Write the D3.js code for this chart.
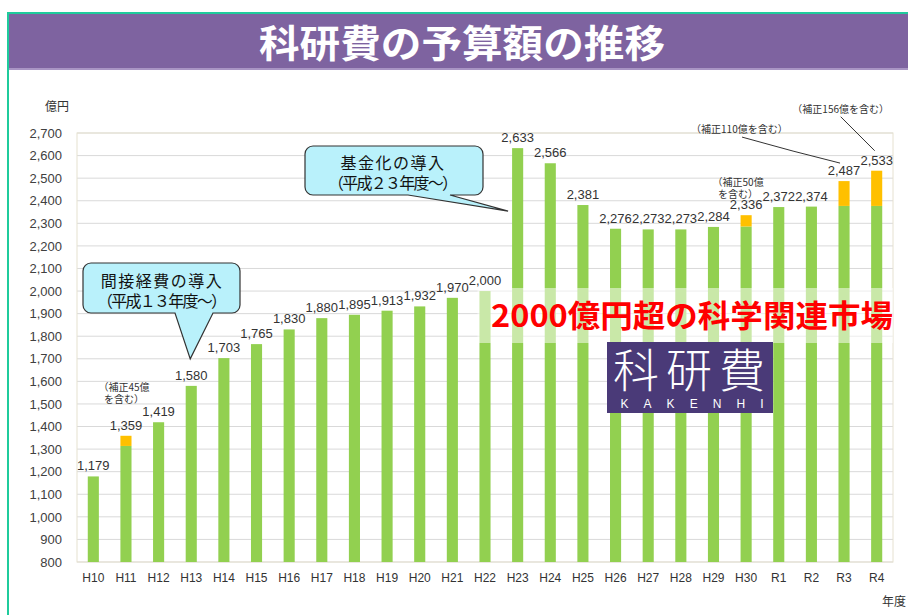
<!doctype html>
<html lang="ja">
  <head>
    <meta charset="UTF-8" />
    <title>科研費の予算額の推移</title>
    <script src="https://d3js.org/d3.v7.min.js"></script>
    <style>
      body {
        margin: 0;
        background: #fff;
      }
      svg text {
        font-family: 'Noto Sans CJK JP', 'Noto Sans', sans-serif;
      }
      .num {
        font-family: 'Liberation Sans', Arial, sans-serif !important;
      }
    </style>
  </head>
  <body>
    <svg id="chart" width="908" height="615"></svg>

    <script>
      // fiscal years
      const years = [
        'H10', 'H11', 'H12', 'H13', 'H14', 'H15', 'H16', 'H17', 'H18', 'H19', 'H20', 'H21',
        'H22', 'H23', 'H24', 'H25', 'H26', 'H27', 'H28', 'H29', 'H30', 'R1', 'R2', 'R3', 'R4',
      ]
      // total budget (億円), supplementary budget included
      const budget = [
        1179, 1359, 1419, 1580, 1703, 1765, 1830, 1880, 1895, 1913, 1932, 1970,
        2000, 2633, 2566, 2381, 2276, 2273, 2273, 2284, 2336, 2372, 2374, 2487, 2533,
      ]
      // supplementary budget part (orange)
      const supplement = [
        0, 45, 0, 0, 0, 0, 0, 0, 0, 0, 0, 0,
        0, 0, 0, 0, 0, 0, 0, 0, 50, 0, 0, 110, 156,
      ]
      const yTicks = [800, 900, 1000, 1100, 1200, 1300, 1400, 1500, 1600, 1700, 1800, 1900,
        2000, 2100, 2200, 2300, 2400, 2500, 2600, 2700]

      const noteH11 = ['（補正45億', 'を含む）']
      const noteH30 = ['（補正50億', 'を含む）']
      const noteR3 = '（補正110億を含む）'
      const noteR4 = '（補正156億を含む）'
      const callout1 = ['間接経費の導入', '（平成１３年度～）']
      const callout2 = ['基金化の導入', '（平成２３年度～）']

      const rows = years.map((d, i) => ({ year: d, total: budget[i], sup: supplement[i] }))

      const svg = d3.select('#chart')
      const plot = { left: 77, right: 893, top: 133, bottom: 562 }

      const x = d3.scaleBand()
        .domain(years)
        .range([plot.left, plot.right])
        .paddingInner(0.66)
        .paddingOuter(0.33)
      const y = d3.scaleLinear().domain([800, 2700]).range([plot.bottom, plot.top])
      const cx = (k) => x(k) + x.bandwidth() / 2
      const fmt = d3.format(',')

      // frame + title band
      svg.append('rect').attr('x', 9).attr('y', 14).attr('width', 899).attr('height', 55)
        .attr('fill', '#7e63a0')
      svg.append('rect').attr('x', 9).attr('y', 68).attr('width', 899).attr('height', 2)
        .attr('fill', '#a995c4')
      svg.append('rect').attr('x', 7).attr('y', 12).attr('width', 901).attr('height', 2)
        .attr('fill', '#1fcb9c')
      svg.append('rect').attr('x', 7).attr('y', 12).attr('width', 2).attr('height', 603)
        .attr('fill', '#1fcb9c')
      svg.append('text')
        .attr('x', 462).attr('y', 57)
        .attr('text-anchor', 'middle')
        .attr('fill', '#fff')
        .attr('font-size', 38)
        .attr('font-weight', 700)
        .attr('textLength', 406)
        .attr('lengthAdjust', 'spacingAndGlyphs')
        .text('科研費の予算額の推移')

      // grid
      svg.append('g').selectAll('line').data(yTicks).join('line')
        .attr('x1', plot.left).attr('x2', plot.right)
        .attr('y1', (d) => y(d)).attr('y2', (d) => y(d))
        .attr('stroke', '#d9d9d9')
      svg.append('rect')
        .attr('x', plot.left).attr('y', plot.top)
        .attr('width', plot.right - plot.left).attr('height', plot.bottom - plot.top)
        .attr('fill', 'none').attr('stroke', '#e6e1d0')

      // y axis
      const yAxis = svg.append('g')
        .attr('transform', `translate(${plot.left},0)`)
        .call(d3.axisLeft(y).tickValues(yTicks).tickSize(0).tickPadding(15).tickFormat(fmt))
      yAxis.select('.domain').remove()
      yAxis.selectAll('text').attr('class', 'num').attr('font-size', 13).attr('fill', '#404040')

      svg.append('text').attr('x', 57).attr('y', 111).attr('text-anchor', 'middle')
        .attr('font-size', 12).attr('fill', '#333').text('億円')

      // x axis
      const xAxis = svg.append('g')
        .attr('transform', `translate(0,${plot.bottom})`)
        .call(d3.axisBottom(x).tickSize(0).tickPadding(11))
      xAxis.select('.domain').remove()
      xAxis.selectAll('text').attr('class', 'num').attr('font-size', 12).attr('fill', '#333')

      svg.append('text').attr('x', 894).attr('y', 606).attr('text-anchor', 'middle')
        .attr('font-size', 12).attr('fill', '#333').text('年度')

      // bars
      svg.append('g').selectAll('rect').data(rows).join('rect')
        .attr('x', (d) => x(d.year))
        .attr('width', x.bandwidth())
        .attr('y', (d) => y(d.total - d.sup))
        .attr('height', (d) => y(800) - y(d.total - d.sup))
        .attr('fill', '#92d050')
      svg.append('g').selectAll('rect').data(rows.filter((d) => d.sup > 0)).join('rect')
        .attr('x', (d) => x(d.year))
        .attr('width', x.bandwidth())
        .attr('y', (d) => y(d.total))
        .attr('height', (d) => y(d.total - d.sup) - y(d.total))
        .attr('fill', '#ffc000')

      // value labels
      svg.append('g').selectAll('text').data(rows).join('text')
        .attr('class', 'num')
        .attr('x', (d) => cx(d.year))
        .attr('y', (d) => y(d.total) - 6)
        .attr('text-anchor', 'middle')
        .attr('font-size', 13)
        .attr('fill', '#333')
        .text((d) => fmt(d.total))

      // translucent band + red message
      svg.append('rect')
        .attr('x', x('H22') - 2).attr('y', 288)
        .attr('width', plot.right - x('H22') + 2).attr('height', 55)
        .attr('fill', '#fff').attr('opacity', 0.5)
      svg.append('text')
        .attr('x', 692).attr('y', 327)
        .attr('text-anchor', 'middle')
        .attr('fill', '#ff0000')
        .attr('font-size', 31)
        .attr('font-weight', 700)
        .attr('textLength', 402)
        .attr('lengthAdjust', 'spacingAndGlyphs')
        .text('2000億円超の科学関連市場')

      // KAKENHI logo
      svg.append('rect').attr('x', 607).attr('y', 342).attr('width', 166).attr('height', 71)
        .attr('fill', '#4a3a78')
      svg.append('text')
        .attr('x', 689).attr('y', 387)
        .attr('text-anchor', 'middle')
        .attr('fill', '#fff')
        .attr('font-size', 46)
        .attr('font-weight', 300)
        .attr('textLength', 152)
        .text('科研費')
      svg.append('text')
        .attr('class', 'num')
        .attr('x', 692).attr('y', 408)
        .attr('text-anchor', 'middle')
        .attr('fill', '#fff')
        .attr('font-size', 12)
        .attr('textLength', 143)
        .text('KAKENHI')

      // callouts
      function callout(x0, y0, x1, y1, tail, lines, tx, ty) {
        const r = 8
        const p = d3.path()
        p.moveTo(x0 + r, y0)
        p.lineTo(x1 - r, y0)
        p.arcTo(x1, y0, x1, y0 + r, r)
        p.lineTo(x1, y1 - r)
        p.arcTo(x1, y1, x1 - r, y1, r)
        p.lineTo(tail[2][0], y1)
        p.lineTo(tail[1][0], tail[1][1])
        p.lineTo(tail[0][0], y1)
        p.lineTo(x0 + r, y1)
        p.arcTo(x0, y1, x0, y1 - r, r)
        p.lineTo(x0, y0 + r)
        p.arcTo(x0, y0, x0 + r, y0, r)
        p.closePath()
        svg.append('path').attr('d', p.toString())
          .attr('fill', '#b9f1fb').attr('stroke', '#333').attr('stroke-width', 1.2)
        svg.append('text').attr('x', tx).attr('y', ty).attr('text-anchor', 'middle')
          .attr('font-size', 16).attr('fill', '#111').attr('letter-spacing', 1.5)
          .text(lines[0])
        svg.append('text').attr('x', tx).attr('y', ty + 20).attr('text-anchor', 'middle')
          .attr('font-size', 16).attr('fill', '#111')
          .attr('textLength', 130).text(lines[1])
      }
      callout(83, 263, 240, 313,
        [[175, 313], [cx('H13') - 1, y(1580) - 27], [213, 313]],
        callout1, 162, 287)
      callout(305, 146, 483, 195,
        [[408, 195], [x('H23') - 4, y(2633) + 63], [450, 195]],
        callout2, 393, 169)

      // supplementary notes
      const note = svg.append('g').attr('font-size', 10).attr('fill', '#333')
      note.append('text').attr('x', cx('H11') - 2).attr('y', y(1359) - 45)
        .attr('text-anchor', 'middle').text(noteH11[0])
      note.append('text').attr('x', cx('H11') - 2).attr('y', y(1359) - 33)
        .attr('text-anchor', 'middle').text(noteH11[1])
      note.append('text').attr('x', cx('H30') - 8).attr('y', y(2336) - 29)
        .attr('text-anchor', 'middle').text(noteH30[0])
      note.append('text').attr('x', cx('H30') - 8).attr('y', y(2336) - 17)
        .attr('text-anchor', 'middle').text(noteH30[1])
      note.append('text').attr('x', cx('R3') - 153).attr('y', y(2487) - 48)
        .attr('text-anchor', 'start').text(noteR3)
      note.append('text').attr('x', cx('R4') - 36).attr('y', y(2533) - 58)
        .attr('text-anchor', 'middle').text(noteR4)
      svg.append('path')
        .attr('d', `M${cx('R3') - 102},${y(2487) - 44} L${cx('R3') - 51},${y(2487) - 30} L${cx('R3') - 4},${y(2487) - 18}`)
        .attr('fill', 'none').attr('stroke', '#333').attr('stroke-width', 1)
      svg.append('path')
        .attr('d', `M${cx('R4') - 36},${y(2533) - 54} L${cx('R4') - 2},${y(2533) - 20}`)
        .attr('fill', 'none').attr('stroke', '#333').attr('stroke-width', 1)
    </script>
  </body>
</html>
